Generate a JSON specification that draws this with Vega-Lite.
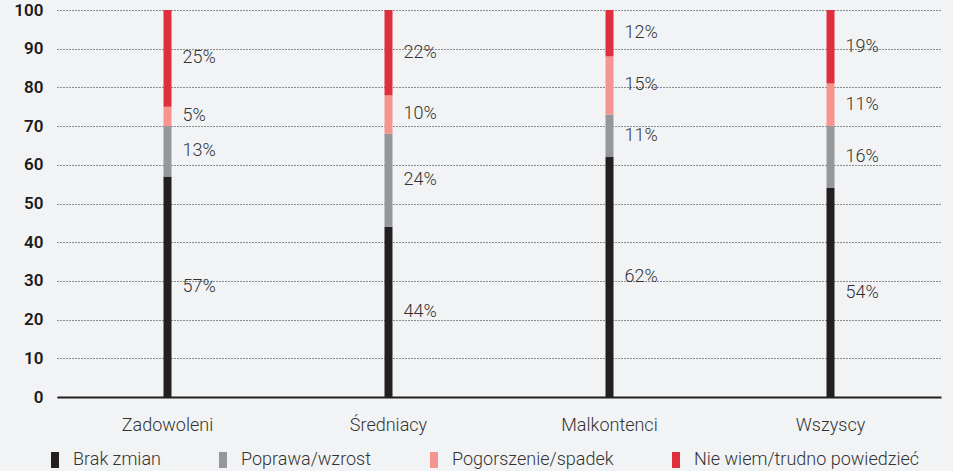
{
  "$schema": "https://vega.github.io/schema/vega-lite/v6.json",
  "width": 884,
  "height": 387,
  "autosize": {"type": "none"},
  "padding": {"left": 57, "top": 10, "right": 12, "bottom": 74},
  "background": "#f2f3f5",
  "config": {
    "view": {"stroke": null},
    "font": "Roboto"
  },
  "data": {
    "values": [
      {"group": "Zadowoleni", "category": "Brak zmian", "order": 1, "value": 57},
      {"group": "Zadowoleni", "category": "Poprawa/wzrost", "order": 2, "value": 13},
      {"group": "Zadowoleni", "category": "Pogorszenie/spadek", "order": 3, "value": 5},
      {"group": "Zadowoleni", "category": "Nie wiem/trudno powiedzieć", "order": 4, "value": 25},
      {"group": "Średniacy", "category": "Brak zmian", "order": 1, "value": 44},
      {"group": "Średniacy", "category": "Poprawa/wzrost", "order": 2, "value": 24},
      {"group": "Średniacy", "category": "Pogorszenie/spadek", "order": 3, "value": 10},
      {"group": "Średniacy", "category": "Nie wiem/trudno powiedzieć", "order": 4, "value": 22},
      {"group": "Malkontenci", "category": "Brak zmian", "order": 1, "value": 62},
      {"group": "Malkontenci", "category": "Poprawa/wzrost", "order": 2, "value": 11},
      {"group": "Malkontenci", "category": "Pogorszenie/spadek", "order": 3, "value": 15},
      {"group": "Malkontenci", "category": "Nie wiem/trudno powiedzieć", "order": 4, "value": 12},
      {"group": "Wszyscy", "category": "Brak zmian", "order": 1, "value": 54},
      {"group": "Wszyscy", "category": "Poprawa/wzrost", "order": 2, "value": 16},
      {"group": "Wszyscy", "category": "Pogorszenie/spadek", "order": 3, "value": 11},
      {"group": "Wszyscy", "category": "Nie wiem/trudno powiedzieć", "order": 4, "value": 19}
    ]
  },
  "transform": [
    {"stack": "value", "groupby": ["group"], "sort": [{"field": "order"}], "as": ["v0", "v1"]},
    {"calculate": "(datum.v0 + datum.v1) / 2", "as": "mid"},
    {"calculate": "datum.value + '%'", "as": "label"}
  ],
  "encoding": {
    "x": {
      "field": "group",
      "type": "nominal",
      "sort": ["Zadowoleni", "Średniacy", "Malkontenci", "Wszyscy"],
      "scale": {"paddingInner": 0, "paddingOuter": 0},
      "axis": {
        "title": null,
        "labelAngle": 0,
        "ticks": false,
        "domain": true,
        "domainColor": "#231f20",
        "domainWidth": 2,
        "labelPadding": 19,
        "labelFontSize": 18,
        "labelColor": "#333333",
        "labelFont": "Roboto",
        "labelFontWeight": 300
      }
    }
  },
  "layer": [
    {
      "mark": {"type": "bar", "size": 8},
      "encoding": {
        "y": {
          "field": "v0",
          "type": "quantitative",
          "scale": {"domain": [0, 100], "nice": false},
          "axis": {
            "title": null,
            "values": [0, 10, 20, 30, 40, 50, 60, 70, 80, 90, 100],
            "labelOverlap": false,
            "grid": true,
            "gridDash": [1, 2],
            "gridColor": "#222222",
            "gridWidth": 1,
            "domain": false,
            "ticks": false,
            "labelPadding": 14,
            "labelFontSize": 17,
            "labelFontWeight": 600,
            "labelColor": "#1a1a1a",
            "labelFont": "Roboto"
          }
        },
        "y2": {"field": "v1"},
        "color": {
          "field": "category",
          "type": "nominal",
          "scale": {
            "domain": ["Brak zmian", "Poprawa/wzrost", "Pogorszenie/spadek", "Nie wiem/trudno powiedzieć"],
            "range": ["#231f20", "#96979a", "#f6948f", "#e02f3c"]
          },
          "legend": {
            "title": null,
            "orient": "none",
            "direction": "horizontal",
            "legendX": -11,
            "legendY": 441,
            "symbolType": "M-0.5,-1L0.5,-1L0.5,1L-0.5,1Z",
            "symbolSize": 256,
            "symbolStrokeWidth": 0,
            "labelFontSize": 18,
            "labelColor": "#333333",
            "labelFont": "Roboto",
            "labelFontWeight": 300,
            "labelLimit": 0,
            "labelOffset": 9,
            "columnPadding": 53
          }
        },
        "order": {"field": "order"}
      }
    },
    {
      "mark": {"type": "text", "align": "left", "baseline": "middle", "dx": 15, "fontSize": 18, "fontWeight": 300, "color": "#333333", "font": "Roboto"},
      "encoding": {
        "y": {
          "field": "mid",
          "type": "quantitative",
          "axis": {
            "title": null,
            "values": [0, 10, 20, 30, 40, 50, 60, 70, 80, 90, 100],
            "labelOverlap": false,
            "grid": true,
            "gridDash": [1, 2],
            "gridColor": "#222222",
            "gridWidth": 1,
            "domain": false,
            "ticks": false,
            "labelPadding": 14,
            "labelFontSize": 17,
            "labelFontWeight": 600,
            "labelColor": "#1a1a1a",
            "labelFont": "Roboto"
          }
        },
        "text": {"field": "label"}
      }
    }
  ]
}
